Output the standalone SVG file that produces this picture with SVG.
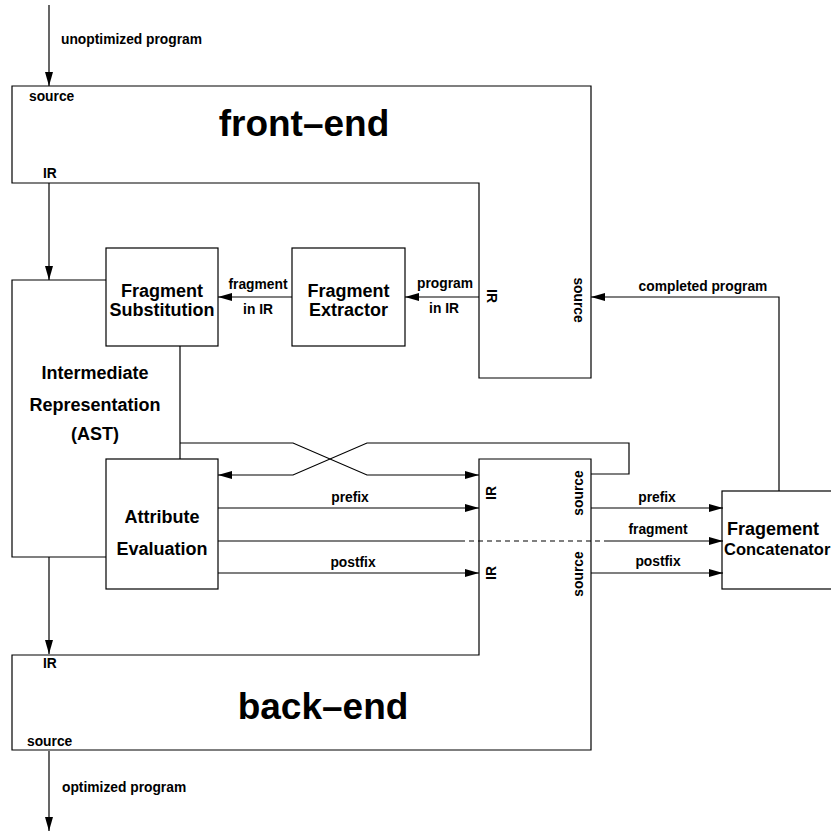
<svg xmlns="http://www.w3.org/2000/svg" width="831" height="833" viewBox="0 0 831 833">
<defs>
<marker id="ah" markerUnits="userSpaceOnUse" markerWidth="14" markerHeight="8" refX="14" refY="4" orient="auto">
<path d="M0,0 L14,4 L0,8 z" fill="#000"/>
</marker>
<style>
.box{fill:none;stroke:#000;stroke-width:1.2}
.ln{fill:none;stroke:#000;stroke-width:1.2}
.ar{fill:none;stroke:#000;stroke-width:1.2;marker-end:url(#ah)}
.dash{fill:none;stroke:#000;stroke-width:1.2;stroke-dasharray:5,4}
text{font-family:"Liberation Sans",Arial,sans-serif;font-weight:bold;fill:#000}
.s{font-size:13.8px}
.m{font-size:18px}
.b{font-size:37px}
.c{text-anchor:middle}
</style>
</defs>
<rect width="831" height="833" fill="#fff"/>

<g id="front-end">
<path class="box" d="M12,86 H591 V378 H479 V183 H12 Z"/>
<text class="b c" x="304" y="136">front–end</text>
<text class="s" x="29" y="101">source</text>
<text class="s" x="43" y="178">IR</text>
<text class="s c" transform="translate(487,296) rotate(90)">IR</text>
<text class="s c" transform="translate(574,300) rotate(90)">source</text>
</g>

<g id="ir">
<path class="box" d="M106,280 H12 V557 H106 M180,346 V459"/>
<text class="m c" x="95" y="379">Intermediate</text>
<text class="m c" x="95" y="411">Representation</text>
<text class="m c" x="95" y="440">(AST)</text>
</g>

<g id="fragment-substitution">
<rect class="box" x="106" y="248" width="112" height="98"/>
<text class="m c" x="162" y="297">Fragment</text>
<text class="m c" x="162" y="316">Substitution</text>
</g>

<g id="fragment-extractor">
<rect class="box" x="292" y="248" width="113" height="98"/>
<text class="m c" x="348.5" y="297">Fragment</text>
<text class="m c" x="348.5" y="316">Extractor</text>
</g>

<g id="attribute-evaluation">
<rect class="box" x="106" y="459" width="112" height="130"/>
<text class="m c" x="162" y="523">Attribute</text>
<text class="m c" x="162" y="555">Evaluation</text>
</g>

<g id="back-end">
<path class="box" d="M12,655 H479 V459 H591 V750 H12 Z"/>
<text class="b c" x="323" y="719">back–end</text>
<text class="s" x="43" y="668">IR</text>
<text class="s" x="27" y="746">source</text>
<text class="s c" transform="translate(496,493) rotate(-90)">IR</text>
<text class="s c" transform="translate(583,493) rotate(-90)">source</text>
<text class="s c" transform="translate(496,573) rotate(-90)">IR</text>
<text class="s c" transform="translate(583,574) rotate(-90)">source</text>
</g>

<g id="fragment-concatenator">
<rect class="box" x="722" y="491" width="120" height="98"/>
<text class="m" x="727" y="535">Fragement</text>
<text style="font-size:16.5px" x="724" y="555">Concatenator</text>
</g>

<g id="connectors">
<path class="ar" d="M49,5 V86"/>
<path class="ar" d="M49,183 V280"/>
<path class="ar" d="M49,557 V654"/>
<path class="ar" d="M49,751 V831"/>
<path class="ar" d="M479,297 H405"/>
<path class="ar" d="M292,297 H218"/>
<path class="ar" d="M779,491 V297 H591"/>
<path class="ar" d="M180,443 H293 L367,475 H479"/>
<path class="ar" d="M591,474 H629 V443 H367 L293,475 H218"/>
<path class="ar" d="M218,508 H479"/>
<path class="ar" d="M218,573 H479"/>
<path class="ar" d="M591,508 H723"/>
<path class="ar" d="M591,573 H723"/>
<path class="ln" d="M218,541 H465"/>
<path class="dash" d="M469,541 H607"/>
<path class="ar" d="M607,541 H723"/>
<text class="s" x="61" y="44">unoptimized program</text>
<text class="s" x="62" y="792">optimized program</text>
<text class="s c" x="445" y="288">program</text>
<text class="s c" x="444" y="313">in IR</text>
<text class="s c" x="258" y="289">fragment</text>
<text class="s c" x="258" y="314">in IR</text>
<text class="s c" x="703" y="291">completed program</text>
<text class="s c" x="350" y="502">prefix</text>
<text class="s c" x="353" y="567">postfix</text>
<text class="s c" x="657" y="502">prefix</text>
<text class="s c" x="658" y="534">fragment</text>
<text class="s c" x="658" y="566">postfix</text>
</g>
</svg>
